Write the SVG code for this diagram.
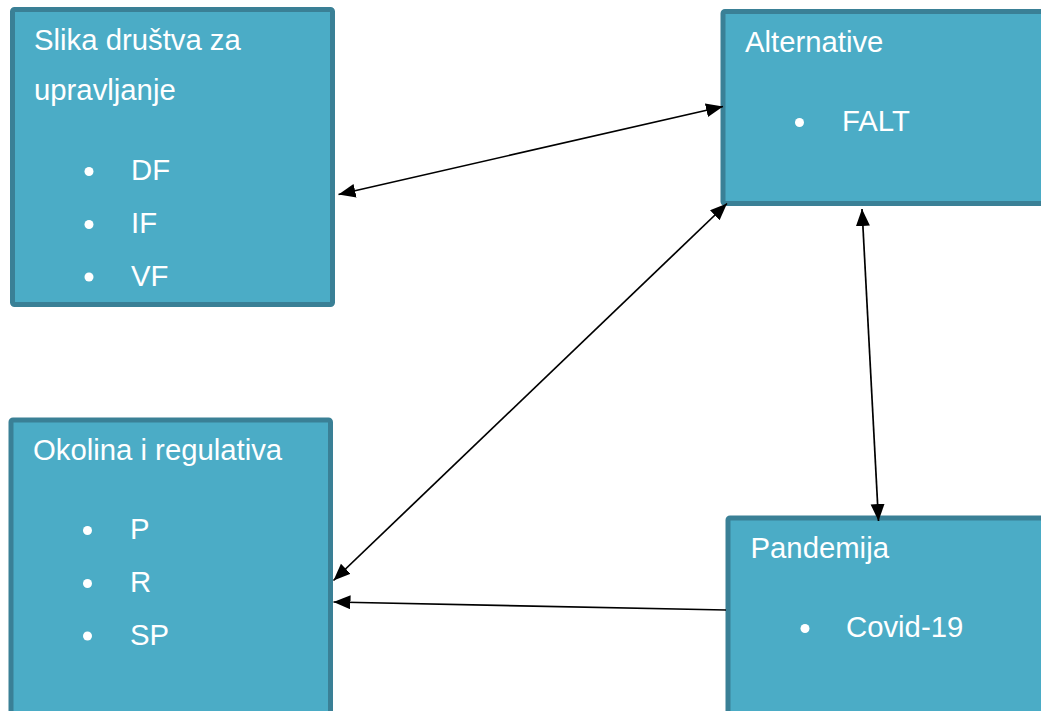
<svg xmlns="http://www.w3.org/2000/svg" width="1041" height="711" viewBox="0 0 1041 711">
<style>
.box{fill:#4BACC6;stroke:#3A8096;stroke-width:5}
.t{font-family:"Liberation Sans",Arial,sans-serif;font-size:29.3px;fill:#FFFFFF}
.b{fill:#FFFFFF}
.c{stroke:#000000;stroke-width:1.7;fill:none}
</style>
<defs>
<marker id="ah" markerUnits="userSpaceOnUse" markerWidth="20" markerHeight="16" refX="17" refY="7" orient="auto-start-reverse">
<path d="M0,0 L17,7 L0,14 z" fill="#000000"/>
</marker>
</defs>
<rect width="1041" height="711" fill="#FFFFFF"/>
<g id="node-slika">
<rect class="box" x="12.5" y="9.5" width="320" height="295" rx="2"/>
<text class="t" x="34" y="50">Slika društva za</text>
<text class="t" x="34" y="100">upravljanje</text>
<circle class="b" cx="89" cy="171.5" r="4.5"/>
<text class="t" x="131" y="180">DF</text>
<circle class="b" cx="89" cy="224.5" r="4.5"/>
<text class="t" x="131" y="233">IF</text>
<circle class="b" cx="89" cy="277" r="4.5"/>
<text class="t" x="131" y="286">VF</text>
</g>
<g id="node-alternative">
<rect class="box" x="723" y="11.5" width="340" height="192" rx="2"/>
<text class="t" x="745" y="52">Alternative</text>
<circle class="b" cx="799.5" cy="122.5" r="4.5"/>
<text class="t" x="842" y="131">FALT</text>
</g>
<g id="node-okolina">
<rect class="box" x="11" y="420" width="319.5" height="320" rx="2"/>
<text class="t" x="33" y="460">Okolina i regulativa</text>
<circle class="b" cx="87.5" cy="530.5" r="4.5"/>
<text class="t" x="130" y="538.5">P</text>
<circle class="b" cx="87.5" cy="583.5" r="4.5"/>
<text class="t" x="130" y="591.5">R</text>
<circle class="b" cx="87.5" cy="636" r="4.5"/>
<text class="t" x="130" y="645">SP</text>
</g>
<g id="node-pandemija">
<rect class="box" x="728" y="518" width="340" height="220" rx="2"/>
<text class="t" x="750.5" y="558">Pandemija</text>
<circle class="b" cx="805" cy="628.5" r="4.5"/>
<text class="t" x="846" y="637">Covid-19</text>
</g>
<g id="connectors">
<line class="c" x1="338.5" y1="194.5" x2="723" y2="106.5" marker-start="url(#ah)" marker-end="url(#ah)"/>
<line class="c" x1="727" y1="203.5" x2="333.5" y2="580.5" marker-start="url(#ah)" marker-end="url(#ah)"/>
<line class="c" x1="862" y1="209" x2="878.5" y2="521" marker-start="url(#ah)" marker-end="url(#ah)"/>
<line class="c" x1="726" y1="610" x2="333.5" y2="602" marker-end="url(#ah)"/>
</g>
</svg>
